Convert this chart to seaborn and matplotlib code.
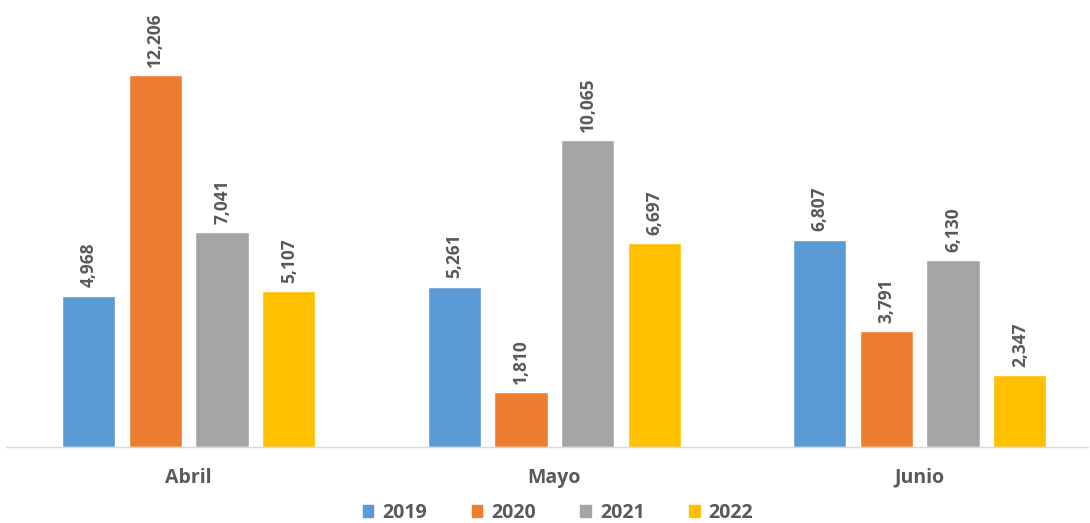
import matplotlib
matplotlib.use("Agg")
import matplotlib.pyplot as plt
import seaborn as sns
import pandas as pd

months = ["Abril", "Mayo", "Junio"]
years = ["2019", "2020", "2021", "2022"]
v2019 = [4968, 5261, 6807]
v2020 = [12206, 1810, 3791]
v2021 = [7041, 10065, 6130]
v2022 = [5107, 6697, 2347]
colors = ["#5B9BD5", "#ED7D31", "#A5A5A5", "#FFC000"]

rows = []
for year, vals in zip(years, [v2019, v2020, v2021, v2022]):
	for m, v in zip(months, vals):
		rows.append({"Mes": m, "Año": year, "Valor": v})
df = pd.DataFrame(rows)

sns.set_style("white")
plt.rcParams['font.family'] = ['Open Sans', 'DejaVu Sans']

fig = plt.figure(figsize=(10.9, 5.23), dpi=100)
ax = fig.add_axes([6 / 1090, 1 - 447 / 523, 1082 / 1090, 447 / 523])

sns.barplot(data=df, x="Mes", y="Valor", hue="Año", order=months, hue_order=years,
	palette=colors, width=0.73, gap=0.2, saturation=1, ax=ax, legend=False)

for cont in ax.containers:
	labels = [f"{int(v):,}" for v in cont.datavalues]
	ax.bar_label(cont, labels=labels, rotation=90, padding=6, fontsize=12.5,
		fontweight='bold', color='#595959')

ax.set_xlim(-0.5, -0.5 + 1082 / 365.5)
ax.set_ylim(0, 14666)
ax.set_yticks([])
ax.set_xlabel("")
ax.set_ylabel("")
for s in ["top", "right", "left"]:
	ax.spines[s].set_visible(False)
ax.spines["bottom"].set_color("#D9D9D9")
ax.spines["bottom"].set_linewidth(1)
ax.tick_params(axis='x', length=0, pad=15)
for t in ax.get_xticklabels():
	t.set_fontsize(14)
	t.set_fontweight('bold')
	t.set_color('#595959')

handles = [plt.Rectangle((0, 0), 1, 1, color=c) for c in colors]
leg = fig.legend(handles, years, loc='center', bbox_to_anchor=(558 / 1090, 1 - 513 / 523),
	ncol=4, frameon=False, handlelength=0.55, handleheight=0.55, columnspacing=2.3,
	handletextpad=0.45, prop={'size': 14, 'weight': 'bold'})
for t in leg.get_texts():
	t.set_color('#595959')

fig.savefig("out.png", dpi=100)
